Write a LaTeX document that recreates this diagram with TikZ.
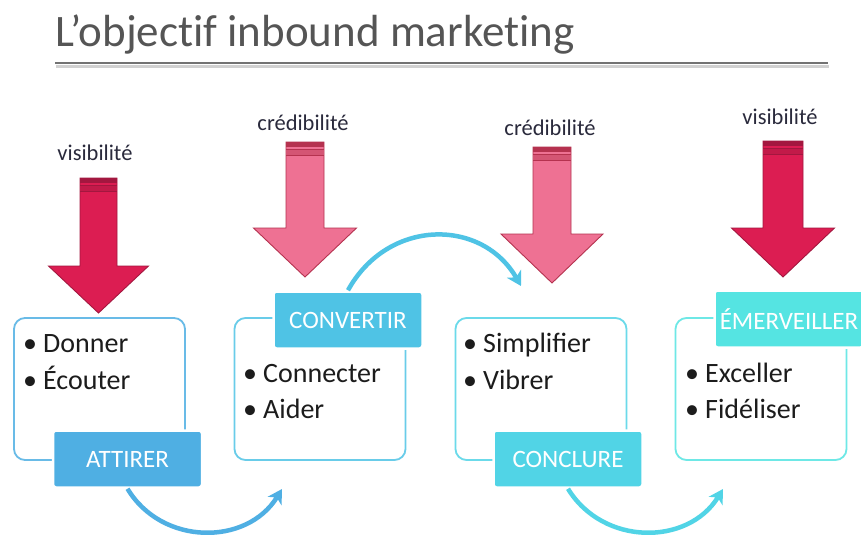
\documentclass[tikz,border=0pt]{standalone}
\usepackage{fontspec}
\setmainfont{Carlito}
\newfontfamily\headfont[Ligatures=NoCommon]{Carlito}
\usetikzlibrary{arrows.meta}

\definecolor{crimson}{HTML}{DC1D52}
\definecolor{crimsonedge}{HTML}{A3173F}
\definecolor{rose}{HTML}{EE7193}
\definecolor{roseedge}{HTML}{B5324F}
\definecolor{blueA}{HTML}{4FAFE3}
\definecolor{blueB}{HTML}{4FC3E5}
\definecolor{blueC}{HTML}{51D4E6}
\definecolor{blueD}{HTML}{55E4E2}
\definecolor{inktext}{HTML}{1C1C1C}
\definecolor{cuetext}{HTML}{2A2A3C}
\definecolor{titlegray}{HTML}{555555}

% bullet line: bullet glyph in a fixed-width box, then the word
\newcommand\bul[1]{\makebox[22pt][l]{\hspace{2pt}•}#1}

% striped block arrow pointing down:
% #1 centre x, #2 shaft half width, #3 head half width,
% #4 top y, #5 head base y, #6 tip y, #7 fill, #8 edge
\newcommand\pushdown[8]{%
  \path[fill=#7, draw=#8, line width=0.9pt, line join=miter]
    ({#1-#2},#4) -- ({#1+#2},#4) -- ({#1+#2},#5) -- ({#1+#3},#5)
    -- (#1,#6) -- ({#1-#3},#5) -- ({#1-#2},#5) -- cycle;
  \fill[#8] ({#1-#2},#4) rectangle ({#1+#2},{#4+5});
  \fill[#8!45!#7] ({#1-#2},{#4+7}) rectangle ({#1+#2},{#4+13});
  \draw[#8, line width=0.8pt] ({#1-#2},{#4+7}) -- ({#1+#2},{#4+7})
    ({#1-#2},{#4+13}) -- ({#1+#2},{#4+13});
}

\tikzset{
  panel/.style={draw=#1, line width=1.8pt, rounded corners=11pt, fill=white,
    minimum width=171pt, minimum height=142pt, inner sep=0pt},
  tag/.style={fill=#1, draw=white, line width=2.5pt, rounded corners=3pt,
    minimum width=149pt, minimum height=57pt, text=white,
    font=\fontsize{25}{28}\selectfont, inner sep=0pt},
  item/.style={anchor=base west, font=\fontsize{28}{32}\selectfont,
    text=inktext, inner sep=0pt},
  cue/.style={font=\fontsize{22.5}{26}\selectfont, text=cuetext, inner sep=0pt},
  flow/.style={draw=#1, line width=4.5pt,
    -{Stealth[length=14pt, width=16pt, inset=4pt]}}
}

\begin{document}
\begin{tikzpicture}[x=1pt, y=-1pt]
  \fill[white] (0,0) rectangle (861,535);
  \useasboundingbox (0,0) rectangle (861,535);

  % heading and its rule
  \node[anchor=base west, font=\headfont\fontsize{45}{50}\selectfont, text=titlegray,
    inner sep=0pt] (title) at (55,47) {L’objectif inbound marketing};
  \draw[black!18, line width=3pt] (56,66) -- (829,66);
  \draw[black!55, line width=2.4pt] (55,63) -- (828,63);

  % the four stage panels
  \node[panel=blueA!85!white] (p1) at (99.5,389) {};
  \node[panel=blueB!85!white] (p2) at (320,389) {};
  \node[panel=blueC!85!white] (p3) at (541,389) {};
  \node[panel=blueD!85!white] (p4) at (761,389) {};

  % stage tags
  \node[tag=blueA] (tagA) at (127.5,459) {ATTIRER};
  \node[tag=blueB] (tagB) at (348,320) {CONVERTIR};
  \node[tag=blueC] (tagC) at (568,459) {CONCLURE};
  \node[tag=blueD] (tagD) at (789,319) {ÉMERVEILLER};

  % bullet texts
  \node[item] (i1a) at (21,352) {\bul{Donner}};
  \node[item] (i1b) at (21,389) {\bul{Écouter}};
  \node[item] (i2a) at (241,382) {\bul{Connecter}};
  \node[item] (i2b) at (241,418) {\bul{Aider}};
  \node[item] (i3a) at (461,352) {\bul{Simplifier}};
  \node[item] (i3b) at (461,389) {\bul{Vibrer}};
  \node[item] (i4a) at (683,382) {\bul{Exceller}};
  \node[item] (i4b) at (683,418) {\bul{Fidéliser}};

  % down arrows and their captions
  \pushdown{98.5}{18.5}{50}{178}{266}{313}{crimson}{crimsonedge}
  \pushdown{305}{19}{51.5}{142}{228}{277}{rose}{roseedge}
  \pushdown{552}{19}{51}{147}{234}{283}{rose}{roseedge}
  \pushdown{783}{20}{51.5}{141}{228}{277}{crimson}{crimsonedge}
  \node[cue] (c1) at (95,153) {visibilité};
  \node[cue] (c2) at (303,123) {crédibilité};
  \node[cue] (c3) at (550,128) {crédibilité};
  \node[cue] (c4) at (780,117) {visibilité};

  % curved flow arrows between stages
  \coordinate (land2) at (282,489);
  \coordinate (land3) at (521,286);
  \coordinate (land4) at (723,489);
  \draw[flow=blueA] (tagA.south) .. controls (162,546) and (247,546) .. (land2);
  \draw[flow=blueB] (tagB.north) .. controls (388,218) and (482,218) .. (land3);
  \draw[flow=blueC] (tagC.south) .. controls (603,546) and (688,546) .. (land4);
\end{tikzpicture}
\end{document}
